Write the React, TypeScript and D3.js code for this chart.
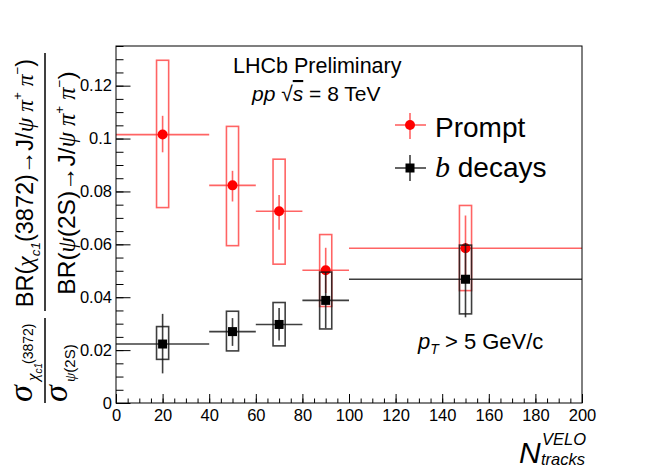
import { axisBottom, axisLeft, format, scaleLinear, select } from 'd3'
import { useEffect, useRef } from 'react'

// N_tracks bins
const binCenters = [20, 50, 70, 90, 150]
const binLow = [0, 40, 60, 80, 100]
const binHigh = [40, 60, 80, 100, 200]

// Prompt
const promptY = [0.1015, 0.0823, 0.0725, 0.0502, 0.0585]
const promptStatHi = [0.1086, 0.0878, 0.0787, 0.0587, 0.0709]
const promptStatLo = [0.0948, 0.0762, 0.0655, 0.0416, 0.046]
const promptSysHi = [0.1296, 0.1046, 0.0922, 0.0637, 0.0747]
const promptSysLo = [0.0739, 0.0595, 0.0525, 0.0365, 0.0425]

// b decays
const bY = [0.0223, 0.027, 0.0297, 0.0388, 0.0468]
const bStatHi = [0.0337, 0.0321, 0.0359, 0.0495, 0.0605]
const bStatLo = [0.0112, 0.0216, 0.0236, 0.0283, 0.0324]
const bSysHi = [0.0289, 0.0347, 0.038, 0.0495, 0.0597]
const bSysLo = [0.0165, 0.0197, 0.0216, 0.028, 0.0337]

const xMajorTicks = [0, 20, 40, 60, 80, 100, 120, 140, 160, 180, 200]
const xMinorTicks = Array.from({ length: 41 }, (_, i) => i * 5)
const yMajorTicks = [0, 0.02, 0.04, 0.06, 0.08, 0.1, 0.12]
const yMinorTicks = Array.from({ length: 28 }, (_, i) => i * 0.005)

const W = 648
const H = 475
const plot = { left: 116, right: 582, top: 46, bottom: 403 }
const sans = "'Liberation Sans', Arial, Helvetica, sans-serif"
const serif = "'Liberation Serif', 'DejaVu Serif', serif"

const x = scaleLinear().domain([0, 200]).range([plot.left, plot.right])
const y = scaleLinear().domain([0, 0.135]).range([plot.bottom, plot.top])

const BOX_HALF = 2.6 // sys box half width in x units

function Series({
  values,
  statHi,
  statLo,
  sysHi,
  sysLo,
  color,
  marker,
}: {
  values: number[]
  statHi: number[]
  statLo: number[]
  sysHi: number[]
  sysLo: number[]
  color: string
  marker: 'circle' | 'square'
}) {
  return (
    <g stroke={color} strokeWidth={1.6} fill="none">
      {values.map((v, i) => {
        const cx = x(binCenters[i])
        const cy = y(v)
        return (
          <g key={i}>
            <rect
              x={x(binCenters[i] - BOX_HALF)}
              y={y(sysHi[i])}
              width={x(binCenters[i] + BOX_HALF) - x(binCenters[i] - BOX_HALF)}
              height={y(sysLo[i]) - y(sysHi[i])}
            />
            <line x1={x(binLow[i])} x2={x(binHigh[i])} y1={cy} y2={cy} />
            <line x1={cx} x2={cx} y1={y(statHi[i])} y2={y(statLo[i])} />
          </g>
        )
      })}
      {values.map((v, i) =>
        marker === 'circle' ? (
          <circle key={'m' + i} cx={x(binCenters[i])} cy={y(v)} r={5} fill="#ff0000" stroke="none" />
        ) : (
          <rect key={'m' + i} x={x(binCenters[i]) - 4.5} y={y(v) - 4.5} width={9} height={9} fill="#000" stroke="none" />
        ),
      )}
    </g>
  )
}

export default function App() {
  const axesRef = useRef<SVGGElement>(null)

  useEffect(() => {
    if (!axesRef.current) return
    const g = select(axesRef.current)
    g.selectAll('*').remove()

    const xMinor = g
      .append('g')
      .attr('transform', `translate(0, ${plot.bottom})`)
      .call(axisBottom(x).tickValues(xMinorTicks).tickSize(-4.5).tickFormat(() => ''))
    xMinor.select('.domain').remove()

    const xMajor = g
      .append('g')
      .attr('transform', `translate(0, ${plot.bottom})`)
      .call(axisBottom(x).tickValues(xMajorTicks).tickSize(-9).tickPadding(6).tickFormat(format('d')))
    xMajor.select('.domain').remove()

    const yMinor = g
      .append('g')
      .attr('transform', `translate(${plot.left}, 0)`)
      .call(axisLeft(y).tickValues(yMinorTicks).tickSize(-7.5).tickFormat(() => ''))
    yMinor.select('.domain').remove()

    const yMajor = g
      .append('g')
      .attr('transform', `translate(${plot.left}, 0)`)
      .call(axisLeft(y).tickValues(yMajorTicks).tickSize(-14.5).tickPadding(4).tickFormat(format('~g')))
    yMajor.select('.domain').remove()

    g.selectAll('.tick line').attr('stroke', '#000').attr('stroke-width', 1)
    g.selectAll('g').attr('font-family', null).attr('font-size', null)
    g.selectAll('.tick text').attr('font-size', 16.5).attr('fill', '#000')
  }, [])

  const red = 'rgba(255, 40, 40, 0.72)'
  const dark = 'rgba(20, 20, 20, 0.82)'

  return (
    <svg
      width={W}
      height={H}
      style={{ position: 'absolute', left: 0, top: 0, background: '#fff' }}
      fontFamily={sans}
    >
      <rect width={W} height={H} fill="#fff" />

      <Series
        values={promptY}
        statHi={promptStatHi}
        statLo={promptStatLo}
        sysHi={promptSysHi}
        sysLo={promptSysLo}
        color={red}
        marker="circle"
      />
      <Series values={bY} statHi={bStatHi} statLo={bStatLo} sysHi={bSysHi} sysLo={bSysLo} color={dark} marker="square" />

      <g ref={axesRef} />
      <rect
        x={plot.left}
        y={plot.top}
        width={plot.right - plot.left}
        height={plot.bottom - plot.top}
        fill="none"
        stroke="#000"
        strokeWidth={1}
      />

      {/* header text */}
      <text x={233} y={73} fontSize={21.5}>
        LHCb Preliminary
      </text>
      <text x={252} y={101} fontSize={21}>
        <tspan fontStyle="italic">pp</tspan>
        <tspan> √</tspan>
        <tspan fontStyle="italic" textDecoration="overline">
          s
        </tspan>
        <tspan> = 8 TeV</tspan>
      </text>

      {/* legend */}
      <g stroke={red} strokeWidth={1.6}>
        <line x1={395} x2={426} y1={125} y2={125} />
        <line x1={410} x2={410} y1={113} y2={139} />
      </g>
      <circle cx={410} cy={125} r={5} fill="#ff0000" />
      <text x={435} y={137} fontSize={28}>
        Prompt
      </text>
      <g stroke={dark} strokeWidth={1.6}>
        <line x1={395} x2={426} y1={168} y2={168} />
        <line x1={410} x2={410} y1={155} y2={181} />
      </g>
      <rect x={405.5} y={163.5} width={9} height={9} fill="#000" />
      <text x={435} y={177} fontSize={28}>
        <tspan fontFamily={serif} fontStyle="italic" fontSize={30}>
          b
        </tspan>
        <tspan> decays</tspan>
      </text>

      {/* pT cut */}
      <text x={418} y={349} fontSize={22}>
        <tspan fontStyle="italic">p</tspan>
        <tspan fontStyle="italic" fontSize={14} dy={5}>
          T
        </tspan>
        <tspan dy={-5}> &gt; 5 GeV/c</tspan>
      </text>

      {/* x title */}
      <text x={519} y={463} fontSize={30} fontStyle="italic">
        N
      </text>
      <text x={542} y={445} fontSize={16.5} fontStyle="italic">
        VELO
      </text>
      <text x={541} y={465} fontSize={16.5} fontStyle="italic">
        tracks
      </text>

      {/* y title (rotated) */}
      <g transform="rotate(-90)">
        {/* right fraction: BR ratio */}
        <text x={-183} y={33} fontSize={23.5} textAnchor="middle">
          <tspan>BR(</tspan>
          <tspan fontFamily={serif} fontStyle="italic">
            χ
          </tspan>
          <tspan fontSize={13.5} fontStyle="italic" dy={7}>
            c1
          </tspan>
          <tspan dy={-7}>(3872)→J/</tspan>
          <tspan fontFamily={serif} fontStyle="italic">
            ψ π
          </tspan>
          <tspan fontSize={13.5} dy={-11}>
            +
          </tspan>
          <tspan fontFamily={serif} fontStyle="italic" dy={11}>
            {' '}π
          </tspan>
          <tspan fontSize={13.5} dy={-11}>
            −
          </tspan>
          <tspan dy={11}>)</tspan>
        </text>
        <line x1={-311} x2={-53} y1={45} y2={45} stroke="#000" strokeWidth={1.5} />
        <text x={-183} y={75} fontSize={24.5} textAnchor="middle">
          <tspan>BR(</tspan>
          <tspan fontFamily={serif} fontStyle="italic">
            ψ
          </tspan>
          <tspan>(2S)→J/</tspan>
          <tspan fontFamily={serif} fontStyle="italic">
            ψ π
          </tspan>
          <tspan fontSize={13.5} dy={-11}>
            +
          </tspan>
          <tspan fontFamily={serif} fontStyle="italic" dy={11}>
            {' '}π
          </tspan>
          <tspan fontSize={13.5} dy={-11}>
            −
          </tspan>
          <tspan dy={11}>)</tspan>
        </text>

        {/* left fraction: cross-section ratio */}
        <text x={-402} y={32} fontSize={34} fontFamily={serif} fontStyle="italic">
          σ
        </text>
        <text x={-381} y={38} fontSize={17} fontFamily={serif} fontStyle="italic">
          χ
          <tspan fontSize={10} dy={4} fontFamily={sans}>
            c1
          </tspan>
        </text>
        <text x={-364} y={33} fontSize={14}>
          (3872)
        </text>
        <line x1={-403} x2={-318} y1={45} y2={45} stroke="#000" strokeWidth={1.5} />
        <text x={-402} y={67} fontSize={34} fontFamily={serif} fontStyle="italic">
          σ
        </text>
        <text x={-382} y={75} fontSize={15}>
          <tspan fontFamily={serif} fontStyle="italic">
            ψ
          </tspan>
          (2S)
        </text>
      </g>
    </svg>
  )
}
